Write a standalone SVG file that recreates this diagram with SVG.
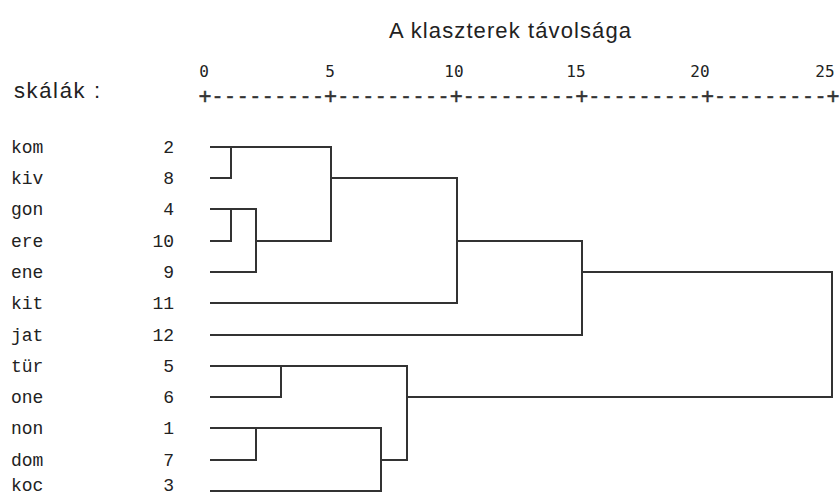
<svg xmlns="http://www.w3.org/2000/svg" width="840" height="497" viewBox="0 0 840 497">
<style>
.lbl{font-family:"Liberation Mono","Courier New",monospace;font-size:18px;fill:#222}
.num{font-family:"Liberation Mono","Courier New",monospace;font-size:18px;fill:#222;text-anchor:end}
.sc{font-family:"DejaVu Sans Mono","Liberation Mono",monospace;font-size:16px;fill:#222;text-anchor:middle}
.title{font-family:"Liberation Sans",Arial,sans-serif;font-size:22px;fill:#222}
.conn path{fill:none;stroke:#333;stroke-width:2;stroke-linejoin:miter;stroke-linecap:square}
</style>
<rect width="840" height="497" fill="#fff"/>
<text class="title" x="389" y="38" textLength="242" lengthAdjust="spacing">A klaszterek távolsága</text>
<text class="title" x="14" y="98" textLength="86" lengthAdjust="spacing">skálák :</text>
<g id="scale">
<text class="sc" x="204" y="77">0</text>
<text class="sc" x="330" y="77">5</text>
<text class="sc" x="454" y="77">10</text>
<text class="sc" x="576" y="77">15</text>
<text class="sc" x="700" y="77">20</text>
<text class="sc" x="825" y="77">25</text>
<text style="font-family:'DejaVu Sans Mono','Liberation Mono',monospace;font-size:20.8px;fill:#333;stroke:#333;stroke-width:0.4" x="198.7" y="103" textLength="640.6" lengthAdjust="spacing">+---------+---------+---------+---------+---------+</text>
</g>
<g id="leaf-kom"><text class="lbl" x="11" y="153">kom</text><text class="num" x="174" y="153">2</text></g>
<g id="leaf-kiv"><text class="lbl" x="11" y="184">kiv</text><text class="num" x="174" y="184">8</text></g>
<g id="leaf-gon"><text class="lbl" x="11" y="215">gon</text><text class="num" x="174" y="215">4</text></g>
<g id="leaf-ere"><text class="lbl" x="11" y="247">ere</text><text class="num" x="174" y="247">10</text></g>
<g id="leaf-ene"><text class="lbl" x="11" y="278">ene</text><text class="num" x="174" y="278">9</text></g>
<g id="leaf-kit"><text class="lbl" x="11" y="309">kit</text><text class="num" x="174" y="309">11</text></g>
<g id="leaf-jat"><text class="lbl" x="11" y="341">jat</text><text class="num" x="174" y="341">12</text></g>
<g id="leaf-tur"><text class="lbl" x="11" y="372">tür</text><text class="num" x="174" y="372">5</text></g>
<g id="leaf-one"><text class="lbl" x="11" y="403">one</text><text class="num" x="174" y="403">6</text></g>
<g id="leaf-non"><text class="lbl" x="11" y="434">non</text><text class="num" x="174" y="434">1</text></g>
<g id="leaf-dom"><text class="lbl" x="11" y="466">dom</text><text class="num" x="174" y="466">7</text></g>
<g id="leaf-koc"><text class="lbl" x="11" y="491">koc</text><text class="num" x="174" y="491">3</text></g>
<g id="connectors" class="conn">
<path d="M211,147 H331"/>
<path d="M211,178 H231 V147"/>
<path d="M211,209 H256"/>
<path d="M211,241 H231 V209"/>
<path d="M211,272 H256 V209"/>
<path d="M256,241 H331 V147"/>
<path d="M331,178 H457"/>
<path d="M211,303 H457 V178"/>
<path d="M457,241 H582"/>
<path d="M211,335 H582 V241"/>
<path d="M582,272 H832"/>
<path d="M211,366 H407"/>
<path d="M211,397 H281 V366"/>
<path d="M211,428 H381"/>
<path d="M211,460 H256 V428"/>
<path d="M211,491 H381 V428"/>
<path d="M381,460 H407 V366"/>
<path d="M407,397 H832 V272"/>
</g>
</svg>
